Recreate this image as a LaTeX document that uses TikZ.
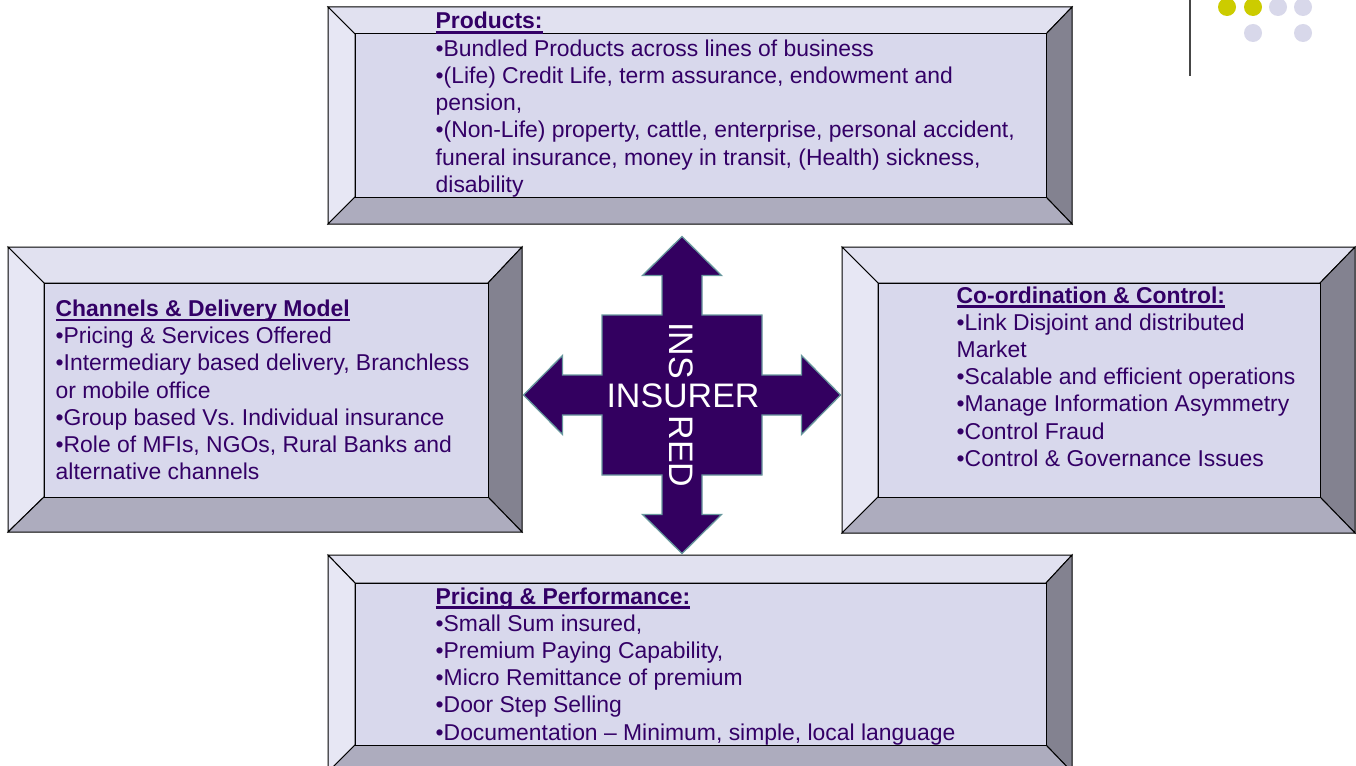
\documentclass[tikz,border=0pt]{standalone}
\usepackage{fontspec}
\setmainfont{Liberation Sans}
\frenchspacing
\definecolor{txtc}{RGB}{51,0,102}
\definecolor{arrc}{RGB}{51,0,96}
\definecolor{arredge}{RGB}{104,152,158}
\definecolor{bvtop}{RGB}{225,225,240}
\definecolor{bvleft}{RGB}{231,231,244}
\definecolor{bvin}{RGB}{216,216,236}
\definecolor{bvright}{RGB}{131,130,144}
\definecolor{bvbot}{RGB}{173,172,190}
\definecolor{doty}{RGB}{204,204,0}
\definecolor{dotl}{RGB}{216,216,234}
\definecolor{vline}{RGB}{70,70,70}
\newcommand\hul[1]{\setbox0\hbox{#1}\rlap{\color{txtc}\rule[-4.6bp]{\wd0}{2.2bp}}\box0}
\newcommand\bevbox[8]{%
  \filldraw[face, fill=bvtop] (#1,#2) -- (#3,#2) -- (#7,#6) -- (#5,#6) -- cycle;
  \filldraw[face, fill=bvleft] (#1,#2) -- (#5,#6) -- (#5,#8) -- (#1,#4) -- cycle;
  \filldraw[face, fill=bvright] (#3,#2) -- (#3,#4) -- (#7,#8) -- (#7,#6) -- cycle;
  \filldraw[face, fill=bvbot] (#1,#4) -- (#5,#8) -- (#7,#8) -- (#3,#4) -- cycle;
  \filldraw[face, fill=bvin] (#5,#6) rectangle (#7,#8);
}
\tikzset{
  face/.style={draw=black, line width=1bp, line join=miter},
  txt/.style={anchor=base west, inner sep=0pt, text=txtc, font=\fontsize{22.9bp}{27.2bp}\selectfont},
  hd/.style={txt, font=\fontsize{22.9bp}{27.2bp}\selectfont\bfseries},
  big/.style={inner sep=0pt, text=white, font=\fontsize{34bp}{40bp}\selectfont},
  arrowshape/.style={fill=arrc, draw=arredge, line width=1.3bp, line join=miter},
  dot/.style={circle, inner sep=0pt, minimum size=18bp},
}
\begin{document}
\begin{tikzpicture}[x=1bp, y=-1bp]
\useasboundingbox (0,0) rectangle (1356,765);
\fill[white] (0,0) rectangle (1356,765);

% decoration top right
\draw[vline, line width=2bp] (1190,0) -- (1190,76);
\node[dot, fill=doty] (d1) at (1227,7) {};
\node[dot, fill=doty] (d2) at (1253,7) {};
\node[dot, fill=dotl] (d3) at (1278,7) {};
\node[dot, fill=dotl] (d4) at (1303,7) {};
\node[dot, fill=dotl] (d5) at (1253,33) {};
\node[dot, fill=dotl] (d6) at (1303,33) {};

% boxes
\bevbox{328}{7}{1072}{224}{355}{34}{1046}{197}
\bevbox{8}{247}{522}{532}{44}{283}{488}{497}
\bevbox{842}{247}{1355}{533}{878}{283}{1320}{497}
\bevbox{328}{555}{1072}{772}{355}{583}{1046}{745}

% top box text
\node[hd] (t0) at (435.5,29) {\hul{Products:}};
\node[txt] (t1) at (435.5,56.2) {•Bundled Products across lines of business};
\node[txt] (t2) at (435.5,83.4) {•(Life) Credit Life, term assurance, endowment and};
\node[txt] (t3) at (435.5,110.6) {pension,};
\node[txt] (t4) at (435.5,137.8) {•(Non-Life) property, cattle, enterprise, personal accident,};
\node[txt] (t5) at (435.5,165) {funeral insurance, money in transit, (Health) sickness,};
\node[txt] (t6) at (435.5,192.2) {disability};

% left box text
\node[hd] (l0) at (55.5,316.5) {\hul{Channels \& Delivery Model}};
\node[txt] (l1) at (55.5,343.7) {•Pricing \& Services Offered};
\node[txt] (l2) at (55.5,370.9) {•Intermediary based delivery, Branchless};
\node[txt] (l3) at (55.5,398.1) {or mobile office};
\node[txt] (l4) at (55.5,425.3) {•Group based Vs. Individual insurance};
\node[txt] (l5) at (55.5,452.5) {•Role of MFIs, NGOs, Rural Banks and};
\node[txt] (l6) at (55.5,479.7) {alternative channels};

% right box text
\node[hd] (r0) at (956.5,303) {\hul{Co-ordination \& Control:}};
\node[txt] (r1) at (956.5,330.2) {•Link Disjoint and distributed};
\node[txt] (r2) at (956.5,357.4) {Market};
\node[txt] (r3) at (956.5,384.6) {•Scalable and efficient operations};
\node[txt] (r4) at (956.5,411.8) {•Manage Information Asymmetry};
\node[txt] (r5) at (956.5,439) {•Control Fraud};
\node[txt] (r6) at (956.5,466.2) {•Control \& Governance Issues};

% bottom box text
\node[hd] (b0) at (435.5,604) {\hul{Pricing \& Performance:}};
\node[txt] (b1) at (435.5,631.2) {•Small Sum insured,};
\node[txt] (b2) at (435.5,658.4) {•Premium Paying Capability,};
\node[txt] (b3) at (435.5,685.6) {•Micro Remittance of premium};
\node[txt] (b4) at (435.5,712.8) {•Door Step Selling};
\node[txt] (b5) at (435.5,740) {•Documentation \textendash{} Minimum, simple, local language};

% centre four-way arrow
\begin{scope}[shift={(682,395)}]
\def\s{20}\def\h{39.5}\def\q{80}\def\b{119.5}\def\t{158.5}
\filldraw[arrowshape]
 (0,-\t) -- (\h,-\b) -- (\s,-\b) -- (\s,-\q) -- (\q,-\q) -- (\q,-\s) -- (\b,-\s) -- (\b,-\h)
 -- (\t,0) -- (\b,\h) -- (\b,\s) -- (\q,\s) -- (\q,\q) -- (\s,\q) -- (\s,\b) -- (\h,\b)
 -- (0,\t) -- (-\h,\b) -- (-\s,\b) -- (-\s,\q) -- (-\q,\q) -- (-\q,\s) -- (-\b,\s) -- (-\b,\h)
 -- (-\t,0) -- (-\b,-\h) -- (-\b,-\s) -- (-\q,-\s) -- (-\q,-\q) -- (-\s,-\q) -- (-\s,-\b) -- (-\h,-\b)
 -- cycle;
\end{scope}
\node[big, rotate=-90] (ins) at (681,350.5) {INS};
\node[big, rotate=-90] (red) at (681,451.5) {RED};
\node[big] (insurer) at (683,396) {INSURER};
\end{tikzpicture}
\end{document}
